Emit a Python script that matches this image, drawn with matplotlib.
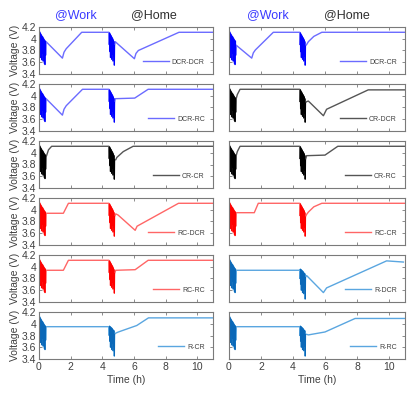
import numpy as np
import matplotlib
matplotlib.use("Agg")
import matplotlib.pyplot as plt

plt.rcParams['font.family'] = ['Liberation Sans', 'DejaVu Sans']

# ---- shared pulse bursts (work arrival and home arrival) ----
burst1_t = [0.00, 0.02, 0.04, 0.06, 0.08, 0.10, 0.12, 0.14, 0.16, 0.18, 0.20,
            0.22, 0.24, 0.26, 0.28, 0.30, 0.32, 0.34, 0.36, 0.38, 0.40, 0.42]
burst1_v = [4.15, 3.92, 4.12, 3.80, 4.10, 3.68, 4.08, 3.85, 4.06, 3.64, 4.04,
            3.75, 4.03, 3.62, 4.01, 3.72, 3.99, 3.58, 3.97, 3.56, 3.96, 3.72]

burst2_t = [4.44, 4.46, 4.48, 4.50, 4.52, 4.54, 4.56, 4.58, 4.60, 4.62,
            4.64, 4.66, 4.68, 4.70, 4.72, 4.74, 4.76, 4.78]
# home burst starting from a full battery
burst2_v = [3.90, 4.10, 3.78, 4.08, 3.68, 4.06, 3.84, 4.04, 3.65, 4.02,
            3.74, 4.00, 3.62, 3.98, 3.70, 3.95, 3.55, 3.88]
# home burst starting from a partly charged battery (R-first strategies)
burst2_low_v = [3.80, 3.96, 3.70, 3.95, 3.60, 3.94, 3.76, 3.93, 3.56, 3.92,
                3.66, 3.90, 3.54, 3.89, 3.62, 3.88, 3.45, 3.82]

# ---- voltage profiles between/after the bursts, per charging strategy ----
dcr_dcr_t = [0.45, 1.48, 1.58, 1.72, 2.70, 4.42, 4.82, 6.03, 6.13, 6.28, 8.85, 11.0]
dcr_dcr_v = [3.95, 3.67, 3.77, 3.83, 4.11, 4.11, 3.95, 3.66, 3.75, 3.80, 4.11, 4.11]

dcr_rc_t = [0.45, 1.48, 1.58, 1.72, 2.75, 4.42, 4.82, 6.05, 6.90, 11.0]
dcr_rc_v = [3.95, 3.67, 3.77, 3.83, 4.11, 4.11, 3.95, 3.96, 4.11, 4.11]

cr_cr_t = [0.45, 0.49, 0.60, 0.80, 4.42, 4.85, 4.92, 5.33, 5.95, 11.0]
cr_cr_v = [3.93, 3.96, 4.05, 4.11, 4.11, 3.88, 3.92, 4.02, 4.11, 4.11]

rc_dcr_t = [0.45, 1.54, 1.86, 4.42, 4.85, 5.00, 6.08, 6.20, 8.82, 11.0]
rc_dcr_v = [3.94, 3.94, 4.11, 4.11, 3.93, 3.91, 3.65, 3.72, 4.11, 4.11]

rc_rc_t = [0.45, 1.54, 1.86, 4.42, 4.85, 6.08, 6.90, 11.0]
rc_rc_v = [3.94, 3.94, 4.11, 4.11, 3.94, 3.95, 4.11, 4.11]

r_cr_t = [0.45, 4.42, 4.85, 5.02, 6.18, 6.92, 11.0]
r_cr_v = [3.95, 3.95, 3.84, 3.86, 3.97, 4.10, 4.10]

dcr_cr_t = [0.45, 1.42, 1.52, 1.65, 2.77, 4.42, 4.85, 4.96, 5.30, 5.80, 11.0]
dcr_cr_v = [3.89, 3.67, 3.76, 3.81, 4.11, 4.11, 3.90, 3.95, 4.04, 4.11, 4.11]

cr_dcr_t = [0.45, 0.52, 0.69, 4.42, 4.85, 4.96, 5.90, 6.10, 8.70, 11.0]
cr_dcr_v = [3.95, 4.02, 4.11, 4.11, 3.90, 3.91, 3.66, 3.77, 4.10, 4.10]

cr_rc_t = [0.45, 0.52, 0.69, 4.42, 4.85, 6.00, 6.80, 11.0]
cr_rc_v = [3.95, 4.02, 4.11, 4.11, 3.95, 3.96, 4.11, 4.11]

rc_cr_t = [0.45, 1.58, 1.83, 4.42, 4.85, 4.96, 5.30, 5.80, 11.0]
rc_cr_v = [3.95, 3.95, 4.11, 4.11, 3.92, 3.96, 4.05, 4.11, 4.11]

r_dcr_t = [0.45, 4.42, 4.85, 4.96, 5.90, 6.10, 9.85, 10.90]
r_dcr_v = [3.94, 3.94, 3.85, 3.82, 3.56, 3.64, 4.10, 4.08]

r_rc_t = [0.45, 4.42, 4.85, 4.96, 6.00, 7.88, 11.0]
r_rc_v = [3.95, 3.95, 3.82, 3.81, 3.86, 4.09, 4.09]

strategy_labels = [["DCR-DCR", "DCR-CR"],
                   ["DCR-RC", "CR-DCR"],
                   ["CR-CR", "CR-RC"],
                   ["RC-DCR", "RC-CR"],
                   ["RC-RC", "R-DCR"],
                   ["R-CR", "R-RC"]]
profiles = [[(dcr_dcr_t, dcr_dcr_v), (dcr_cr_t, dcr_cr_v)],
            [(dcr_rc_t, dcr_rc_v), (cr_dcr_t, cr_dcr_v)],
            [(cr_cr_t, cr_cr_v), (cr_rc_t, cr_rc_v)],
            [(rc_dcr_t, rc_dcr_v), (rc_cr_t, rc_cr_v)],
            [(rc_rc_t, rc_rc_v), (r_dcr_t, r_dcr_v)],
            [(r_cr_t, r_cr_v), (r_rc_t, r_rc_v)]]

family_colors = {"DCR": "#0000ff", "CR": "#000000", "RC": "#ff0000", "R": "#0a68b8"}
line_colors = {"DCR": "#6b6bff", "CR": "#555555", "RC": "#ff6666", "R": "#5aa6e0"}

x_ticks = [0, 2, 4, 6, 8, 10]
y_ticks = [3.4, 3.6, 3.8, 4.0, 4.2]
y_ticklabels = ["3.4", "3.6", "3.8", "4", "4.2"]

W, H = 413, 398
fig = plt.figure(figsize=(W / 100, H / 100), dpi=100)

col_left = [39, 229]
col_width = [174, 176]
row_top = [27, 84, 141, 198, 255, 312]
row_h = 47

frame_col = "#7a7a7a"
text_col = "#404040"

for r in range(6):
    for c in range(2):
        ax = fig.add_axes([col_left[c] / W, 1 - (row_top[r] + row_h) / H,
                           col_width[c] / W, row_h / H])
        label = strategy_labels[r][c]
        fam = label.split("-")[0]
        t_prof = np.asarray(profiles[r][c][0])
        v_prof = np.asarray(profiles[r][c][1])
        before = t_prof < 4.43
        b2v = burst2_low_v if fam == "R" else burst2_v
        t_all = np.concatenate([burst1_t, t_prof[before], burst2_t, t_prof[~before]])
        v_all = np.concatenate([burst1_v, v_prof[before], b2v, v_prof[~before]])
        ln, = ax.plot(t_all, v_all, color=line_colors[fam], lw=1.0, label=label)
        ax.plot(burst1_t, burst1_v, color=family_colors[fam], lw=0.5)
        ax.plot(burst2_t, b2v, color=family_colors[fam], lw=0.5)

        ax.set_xlim(0, 11)
        ax.set_ylim(3.4, 4.2)
        ax.set_xticks(x_ticks)
        ax.set_yticks(y_ticks)
        ax.tick_params(direction="in", length=2.5, width=0.6, color=frame_col,
                       top=True, right=True, labelsize=7.5, labelcolor=text_col,
                       pad=2)
        for s in ax.spines.values():
            s.set_color(frame_col)
            s.set_linewidth(0.8)
        if c == 0:
            ax.set_yticklabels(y_ticklabels)
            ax.set_ylabel("Voltage (V)", fontsize=7.5, color=text_col, labelpad=1)
        else:
            ax.set_yticklabels([])
        if r == 5:
            ax.set_xticklabels([str(v) for v in x_ticks])
            ax.set_xlabel("Time (h)", fontsize=7.5, color=text_col, labelpad=2)
        else:
            ax.set_xticklabels([])
        leg = ax.legend(handles=[ln], loc="lower right", frameon=False,
                        fontsize=5, handlelength=3.8, borderaxespad=0.8,
                        handletextpad=0.4)
        for txt in leg.get_texts():
            txt.set_color(text_col)

# column headers
for x_px, txt, col in [(76, "@Work", "#3a3aff"), (154, "@Home", "#303030"),
                       (268, "@Work", "#3a3aff"), (347, "@Home", "#303030")]:
    fig.text(x_px / W, 1 - 15 / H, txt, color=col, fontsize=9,
             ha="center", va="center")

fig.savefig("out.png", dpi=100, facecolor="white")
